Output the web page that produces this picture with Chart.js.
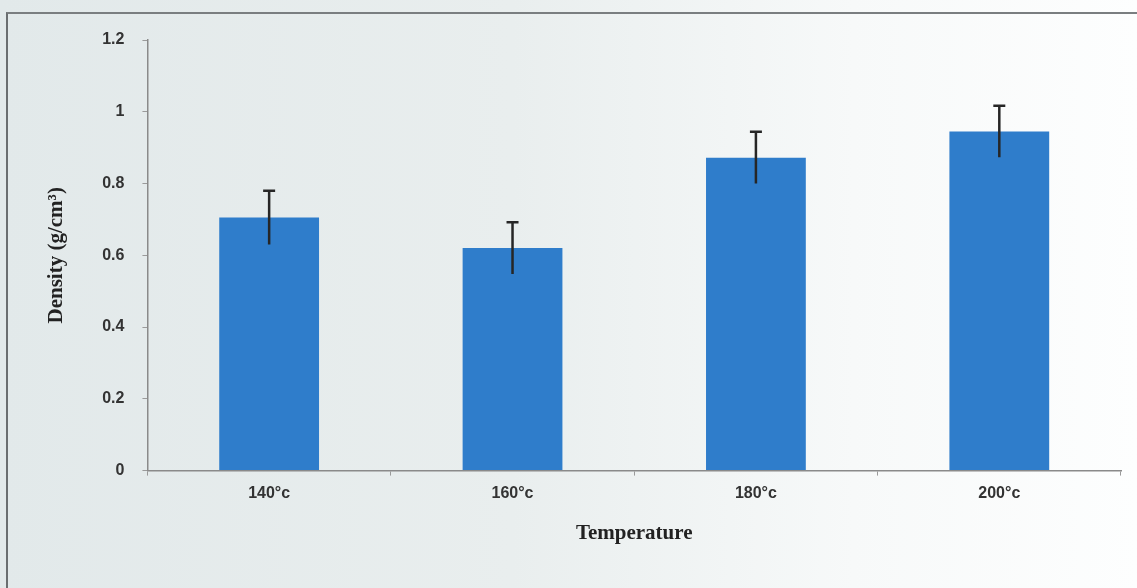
<!DOCTYPE html>
<html>
<head>
<meta charset="utf-8">
<script src="https://cdn.jsdelivr.net/npm/chart.js@4"></script>
<style>
  html, body { margin: 0; padding: 0; }
  body {
    width: 1137px; height: 588px; overflow: hidden; position: relative;
    background: linear-gradient(90deg, #e2e9ea 0%, #e9eeee 45%, #f7f9f9 75%, #fdfefe 100%);
  }
  #frame {
    position: absolute; left: 6px; top: 12px; width: 1160px; height: 600px;
    border-left: 2px solid #6a6e70; border-top: 2px solid #7a7e80;
  }
  #wrap { position: absolute; left: 0; top: 0; width: 1137px; height: 588px; }
</style>
</head>
<body>
<div id="frame"></div>
<div id="wrap"><canvas id="chart" width="1137" height="588"></canvas></div>
<script>
// 데이터
const categories = ['140°c', '160°c', '180°c', '200°c'];
const density = [0.705, 0.62, 0.872, 0.945];
const errors = [0.075, 0.072, 0.072, 0.072];
const yTicks = [0, 0.2, 0.4, 0.6, 0.8, 1, 1.2];

// 오차 막대 (위쪽 캡만)
const errorBars = {
    id: 'errorBars',
    afterDatasetsDraw(chart) {
        const ctx = chart.ctx;
        const y = chart.scales.y;
        const meta = chart.getDatasetMeta(0);
        ctx.save();
        ctx.strokeStyle = '#262626';
        ctx.lineWidth = 2.5;
        meta.data.forEach((bar, i) => {
            const top = y.getPixelForValue(density[i] + errors[i]);
            const bot = y.getPixelForValue(density[i] - errors[i]);
            ctx.beginPath();
            ctx.moveTo(bar.x, top);
            ctx.lineTo(bar.x, bot);
            ctx.moveTo(bar.x - 6, top);
            ctx.lineTo(bar.x + 6, top);
            ctx.stroke();
        });
        ctx.restore();
    }
};

function init() {
    new Chart(document.getElementById('chart'), {
        type: 'bar',
        data: {
            labels: categories,
            datasets: [{ data: density, backgroundColor: '#2f7dcb', barPercentage: 0.41, categoryPercentage: 1 }]
        },
        options: {
            animation: false, responsive: false,
            layout: { padding: { left: 40, right: 16, top: 40, bottom: 38 } },
            plugins: { legend: { display: false }, tooltip: { enabled: false } },
            scales: {
                x: {
                    grid: { drawOnChartArea: false, color: '#9a9a9a', tickLength: 5, offset: true },
                    border: { color: '#8a8a8a', width: 1.5 },
                    ticks: { color: '#333', font: { family: 'Liberation Sans Narrow, Arial Narrow, sans-serif', size: 16, weight: 'bold' }, padding: 8 },
                    title: { display: true, text: 'Temperature', color: '#222', font: { family: 'Liberation Serif, Times New Roman, serif', size: 21, weight: 'bold' }, padding: { top: 10 } }
                },
                y: {
                    min: 0, max: 1.2,
                    afterBuildTicks(axis) { axis.ticks = yTicks.map(v => ({ value: v })); },
                    grid: { drawOnChartArea: false, color: '#9a9a9a', tickLength: 5 },
                    border: { color: '#8a8a8a', width: 1.5 },
                    ticks: { color: '#333', font: { family: 'Liberation Sans Narrow, Arial Narrow, sans-serif', size: 16, weight: 'bold' }, padding: 18,
                             callback: v => String(v) },
                    title: { display: true, text: 'Density (g/cm³)', color: '#222', font: { family: 'Liberation Serif, Times New Roman, serif', size: 21, weight: 'bold' }, padding: { bottom: 15 } }
                }
            }
        },
        plugins: [errorBars]
    });
}

window.onload = init;
</script>
</body>
</html>
